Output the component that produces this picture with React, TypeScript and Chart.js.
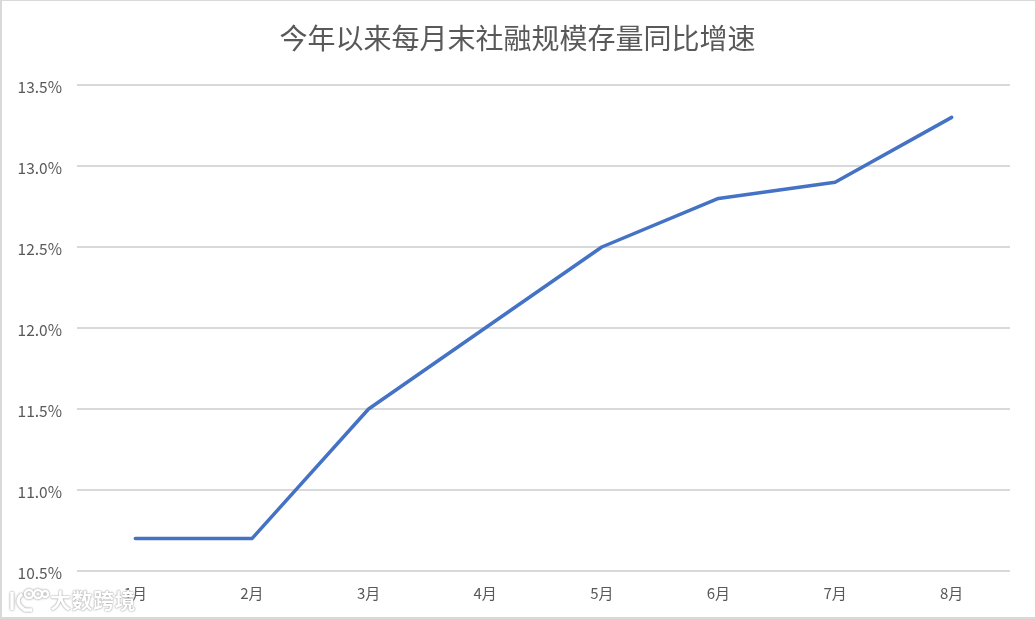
import React, { useEffect, useRef } from "react";
import { Chart, registerables } from "chart.js";

Chart.register(...registerables);

const titleText = "今年以来每月末社融规模存量同比增速";
const categories = ["1月", "2月", "3月", "4月", "5月", "6月", "7月", "8月"];
const growth = [10.7, 10.7, 11.5, 12.0, 12.5, 12.8, 12.9, 13.3];
const watermark = "大数跨境";
const font = '"Noto Sans CJK SC", "Noto Sans", sans-serif';

export default function App() {
  const ref = useRef<HTMLCanvasElement>(null);
  useEffect(() => {
    document.body.style.margin = "0";
    const chart = new Chart(ref.current!, {
      type: "line",
      data: {
        labels: categories,
        datasets: [{
          data: growth,
          borderColor: "#4472c4",
          borderWidth: 3.5,
          pointRadius: 0,
          tension: 0,
          borderCapStyle: "round",
          borderJoinStyle: "round",
        }],
      },
      options: {
        animation: false,
        responsive: false,
        layout: { padding: 0 },
        plugins: {
          legend: { display: false },
          tooltip: { enabled: false },
          title: {
            display: true,
            text: titleText,
            color: "#595959",
            font: { family: font, size: 28, weight: "normal" },
            padding: { top: 22, bottom: 29.4 },
          },
        },
        scales: {
          x: {
            offset: true,
            grid: { display: false, drawTicks: false },
            border: { display: false },
            ticks: { color: "#595959", font: { family: font, size: 15 }, padding: 13, maxRotation: 0 },
            afterFit: (s: any) => { s.height = 48; },
          },
          y: {
            min: 10.5,
            max: 13.5,
            grid: { color: "#d9d9d9", lineWidth: 2, drawTicks: false },
            border: { display: false },
            ticks: {
              stepSize: 0.5,
              color: "#595959",
              font: { family: font, size: 15.5, lineHeight: "4px" },
              padding: 15,
              callback: (v: any) => ["", Number(v).toFixed(1) + "%"],
            },
            afterFit: (s: any) => { s.width = 77; },
          },
          spacer: {
            position: "right",
            grid: { display: false, drawTicks: false },
            border: { display: false },
            ticks: { display: false },
            afterFit: (s: any) => { s.width = 25; },
          },
        },
      },
    } as any);
    return () => chart.destroy();
  }, []);
  return (
    <div style={{ position: "relative", width: 1035, height: 619, overflow: "hidden", background: "#fff" }}>
      <canvas ref={ref} width={1035} height={619} style={{ display: "block" }} />
      <div style={{ position: "absolute", inset: 0, borderStyle: "solid", borderColor: "#d9d9d9", borderWidth: "1px 0 2px 2px", pointerEvents: "none" }} />
      <svg width={50} height={30} style={{ position: "absolute", left: 5, top: 585, filter: "drop-shadow(0 0 1px #888)" }} fill="none" stroke="#fff" strokeWidth={3.5}>
        <path d="M7 7 V25 M17 9 Q8 17 20 25 H27" />
        <circle cx={24} cy={9} r={4} strokeWidth={2.5} />
        <circle cx={33} cy={9} r={4} strokeWidth={2.5} />
        <circle cx={40} cy={9} r={3} strokeWidth={2.5} />
      </svg>
      <div style={{
        position: "absolute", left: 50, top: 585, fontFamily: font, fontSize: 21, lineHeight: "28px",
        fontWeight: 700, color: "#ffffff", textShadow: "0 0 2px #a0a0a0, 0 0 1px #909090", letterSpacing: 0.5,
      }}>{watermark}</div>
    </div>
  );
}
